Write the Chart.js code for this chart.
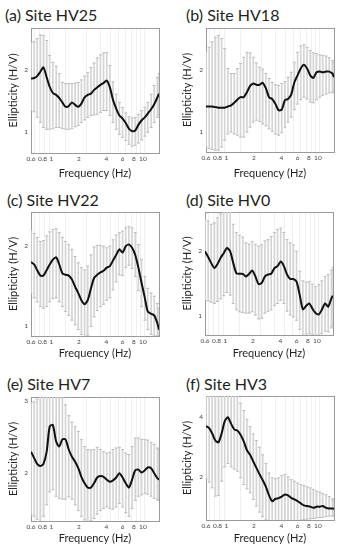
<!DOCTYPE html>
<html>
<head>
<meta charset="utf-8">
<script src="https://cdn.jsdelivr.net/npm/chart.js@4.4.1/dist/chart.umd.min.js"></script>
<style>
  body { margin: 0; background: #fff; }
  #wrap { position: relative; width: 340px; height: 550px; overflow: hidden; }
  canvas { position: absolute; }
  .ttl { position: absolute; font: 16px Lato, sans-serif; line-height: 16px; color: #231f20; white-space: nowrap; }
</style>
</head>
<body>
<div id="wrap"></div>
<script>
// 周波数 (Hz) — 全サイト共通
const freq = [0.60,0.65,0.70,0.76,0.82,0.89,0.96,1.04,1.13,1.22,1.32,1.43,1.55,1.68,1.82,1.97,2.13,2.31,2.50,2.71,2.93,3.17,3.44,3.72,4.03,4.36,4.72,5.11,5.54,6.00,6.50,7.03,7.62,8.25,8.93,9.67,10.5,11.3,12.3,13.3,14.4,15.0];
const xTickVals = [0.6,0.7,0.8,0.9,1,2,3,4,5,6,7,8,9,10];
const xTickLabels = ['0.6','','0.8','','1','2','','4','','6','','8','','10'];

// HV25
const hv25Mean = [1.86,1.87,1.90,1.97,2.04,1.88,1.73,1.63,1.60,1.55,1.48,1.41,1.42,1.48,1.44,1.41,1.46,1.56,1.60,1.62,1.68,1.72,1.76,1.79,1.83,1.72,1.52,1.38,1.27,1.22,1.15,1.06,1.02,1.03,1.12,1.19,1.24,1.30,1.37,1.45,1.56,1.62];
const hv25Up   = [2.44,2.45,2.50,2.56,2.55,2.47,2.23,2.12,2.06,1.94,1.80,1.78,1.78,1.78,1.79,1.80,1.84,1.90,1.96,2.04,2.11,2.19,2.24,2.27,2.28,2.07,1.81,1.61,1.48,1.40,1.31,1.25,1.23,1.24,1.29,1.35,1.40,1.48,1.61,1.75,1.88,1.94];
const hv25Low  = [1.35,1.33,1.24,1.16,1.08,1.05,1.05,1.06,1.08,1.08,1.06,1.05,1.05,1.06,1.09,1.11,1.16,1.20,1.24,1.27,1.28,1.29,1.32,1.35,1.35,1.27,1.16,1.05,0.97,0.92,0.87,0.81,0.78,0.79,0.83,0.88,0.94,1.00,1.08,1.16,1.24,1.28];

// HV18
const hv18Mean = [1.41,1.41,1.41,1.40,1.39,1.39,1.39,1.41,1.43,1.47,1.52,1.56,1.56,1.64,1.74,1.78,1.76,1.76,1.79,1.70,1.56,1.53,1.45,1.35,1.36,1.51,1.53,1.60,1.80,1.91,2.02,2.08,2.02,1.91,1.87,1.96,1.97,1.96,1.97,1.97,1.94,1.88];
const hv18Up   = [2.29,2.36,2.45,2.52,2.55,2.50,2.34,2.02,1.94,1.94,2.02,2.10,2.20,2.28,2.27,2.20,2.11,2.04,2.01,1.94,1.86,1.80,1.76,1.75,1.78,1.81,1.88,1.96,2.12,2.28,2.38,2.40,2.36,2.31,2.27,2.26,2.24,2.23,2.22,2.19,2.15,2.12];
const hv18Low  = [0.76,0.74,0.72,0.71,0.71,0.76,0.87,0.97,1.00,0.97,0.95,0.92,0.92,1.00,1.08,1.16,1.19,1.17,1.13,1.10,1.05,1.01,0.97,0.95,0.99,1.08,1.16,1.24,1.36,1.45,1.52,1.56,1.53,1.48,1.47,1.52,1.56,1.59,1.61,1.63,1.64,1.63];

// HV22
const hv22Mean = [1.80,1.77,1.70,1.63,1.63,1.70,1.77,1.83,1.86,1.77,1.66,1.64,1.63,1.58,1.49,1.41,1.32,1.27,1.32,1.47,1.60,1.64,1.67,1.69,1.73,1.75,1.82,1.89,1.96,1.92,2.00,2.02,1.98,1.89,1.73,1.54,1.35,1.18,1.15,1.13,1.03,0.95];
const hv22Up   = [2.20,2.16,2.11,2.06,2.07,2.13,2.18,2.21,2.22,2.17,2.11,2.06,2.02,1.96,1.87,1.79,1.73,1.70,1.75,1.89,1.99,2.01,2.01,2.00,1.98,2.00,2.08,2.14,2.17,2.19,2.23,2.25,2.23,2.17,2.02,1.83,1.62,1.47,1.41,1.37,1.28,1.22];
const hv22Low  = [1.41,1.35,1.30,1.24,1.22,1.24,1.30,1.34,1.35,1.30,1.24,1.18,1.13,1.07,1.01,0.95,0.89,0.86,0.88,0.99,1.11,1.19,1.24,1.27,1.32,1.35,1.45,1.55,1.64,1.63,1.73,1.76,1.72,1.62,1.44,1.24,1.07,0.95,0.89,0.87,0.87,0.87];

// HV0
const hv0Mean = [2.00,1.91,1.82,1.74,1.80,1.90,1.97,2.05,2.00,1.82,1.66,1.65,1.65,1.61,1.65,1.70,1.61,1.49,1.51,1.61,1.64,1.65,1.74,1.77,1.84,1.77,1.64,1.57,1.57,1.53,1.32,1.10,1.15,1.19,1.11,1.04,1.02,1.09,1.19,1.14,1.27,1.31];
const hv0Up   = [2.49,2.47,2.42,2.44,2.52,2.58,2.64,2.68,2.63,2.42,2.29,2.25,2.22,2.13,2.11,2.15,2.11,2.08,2.10,2.16,2.18,2.23,2.29,2.34,2.36,2.29,2.18,2.13,2.10,2.00,1.69,1.54,1.52,1.53,1.49,1.45,1.48,1.54,1.61,1.64,1.71,1.75];
const hv0Low  = [1.24,1.23,1.21,1.19,1.22,1.26,1.31,1.36,1.32,1.19,1.09,1.06,1.05,1.04,1.04,1.06,1.01,0.95,0.96,1.04,1.07,1.09,1.16,1.19,1.24,1.19,1.07,1.01,0.98,0.93,0.79,0.69,0.70,0.72,0.70,0.69,0.70,0.72,0.76,0.75,0.81,0.84];

// HV7
const hv7Mean = [2.30,2.21,2.13,2.10,2.13,2.30,2.65,2.67,2.44,2.37,2.47,2.47,2.33,2.23,2.16,2.07,1.95,1.86,1.80,1.80,1.86,1.94,1.96,1.95,1.91,1.88,1.90,1.94,2.00,1.94,1.86,1.80,1.91,2.04,2.05,2.01,2.04,2.08,2.07,2.00,1.93,1.91];
const hv7Up   = [2.98,2.99,3.03,3.09,3.14,3.20,3.25,3.25,3.20,3.12,3.05,2.95,2.80,2.71,2.65,2.58,2.47,2.37,2.33,2.32,2.33,2.36,2.33,2.30,2.28,2.29,2.33,2.35,2.36,2.33,2.28,2.26,2.37,2.49,2.49,2.47,2.47,2.46,2.43,2.40,2.35,2.33];
const hv7Low  = [1.42,1.40,1.36,1.33,1.40,1.56,1.74,1.77,1.68,1.65,1.64,1.64,1.67,1.64,1.56,1.48,1.40,1.35,1.33,1.34,1.37,1.43,1.48,1.51,1.53,1.51,1.50,1.53,1.58,1.53,1.45,1.40,1.51,1.62,1.68,1.70,1.72,1.71,1.68,1.65,1.63,1.62];

// HV3
const hv3Mean = [3.69,3.62,3.45,3.21,3.15,3.45,3.84,3.98,3.76,3.58,3.54,3.40,3.18,2.89,2.74,2.52,2.31,2.09,1.90,1.68,1.40,1.21,1.29,1.31,1.36,1.43,1.40,1.32,1.27,1.21,1.14,1.07,1.05,1.03,0.99,1.03,1.03,1.05,0.99,0.97,0.97,0.96];
const hv3Up   = [4.68,4.71,4.71,4.77,4.82,4.90,5.00,5.00,4.90,4.77,4.66,4.44,4.20,3.91,3.67,3.43,3.21,2.99,2.74,2.45,2.14,1.98,1.95,1.98,2.05,2.09,2.01,1.92,1.87,1.81,1.76,1.73,1.68,1.65,1.60,1.54,1.51,1.46,1.42,1.36,1.29,1.25];
const hv3Low  = [1.95,1.84,1.65,1.38,1.40,1.87,2.34,2.45,2.34,2.27,2.20,1.98,1.76,1.62,1.49,1.27,1.05,0.85,0.70,0.59,0.50,0.45,0.50,0.50,0.48,0.50,0.55,0.55,0.56,0.57,0.58,0.60,0.62,0.63,0.64,0.66,0.67,0.68,0.70,0.72,0.72,0.72];

// パネル設定 (位置・軸範囲)
const panels = [
  { title: '(a) Site HV25', mean: hv25Mean, up: hv25Up, low: hv25Low, yMin: 0.67, yMax: 2.67, yTicks: [1, 2],
    left: 0, top: 0, h: 183, yW: 31, padR: 11, padT: 28, xH: 30, xtPad: 3, ytPad: 6.5, tx: 5, ty: 7 },
  { title: '(b) Site HV18', mean: hv18Mean, up: hv18Up, low: hv18Low, yMin: 0.68, yMax: 2.67, yTicks: [1, 2],
    left: 170, top: 0, h: 183, yW: 36, padR: 6, padT: 28, xH: 31, xtPad: 3, ytPad: 10.5, tx: 186, ty: 7 },
  { title: '(c) Site HV22', mean: hv22Mean, up: hv22Up, low: hv22Low, yMin: 0.87, yMax: 2.43, yTicks: [1, 2],
    left: 0, top: 183, h: 184, yW: 31, padR: 11, padT: 29, xH: 31, xtPad: 7, ytPad: 6.5, tx: 7, ty: 192 },
  { title: '(d) Site HV0', mean: hv0Mean, up: hv0Up, low: hv0Low, yMin: 0.70, yMax: 2.61, yTicks: [1, 2],
    left: 170, top: 183, h: 184, yW: 35, padR: 7, padT: 29, xH: 32, xtPad: 7, ytPad: 11, tx: 186, ty: 192 },
  { title: '(e) Site HV7', mean: hv7Mean, up: hv7Up, low: hv7Low, yMin: 1.335, yMax: 3.06, yTicks: [2, 3],
    left: 0, top: 367, h: 183, yW: 31, padR: 11, padT: 30, xH: 29, xtPad: 5, ytPad: 6.5, tx: 7, ty: 376 },
  { title: '(f) Site HV3', mean: hv3Mean, up: hv3Up, low: hv3Low, yMin: 0.59, yMax: 4.68, yTicks: [2, 4],
    left: 170, top: 367, h: 183, yW: 36, padR: 6, padT: 29, xH: 30, xtPad: 5, ytPad: 11, tx: 186, ty: 376 }
];

Chart.defaults.font.family = 'Lato, sans-serif';
Chart.defaults.color = '#333';

const BAR_GREY = '#d4d4d4';
const CAP_GREY = '#bdbdbd';
const BOX_GREY = '#9a9a9a';

function makePanel(p) {
  const wrap = document.getElementById('wrap');

  const t = document.createElement('div');
  t.className = 'ttl';
  t.style.left = p.tx + 'px';
  t.style.top = p.ty + 'px';
  t.textContent = p.title;
  wrap.appendChild(t);

  const canvas = document.createElement('canvas');
  canvas.style.left = p.left + 'px';
  canvas.style.top = p.top + 'px';
  canvas.style.width = '170px';
  canvas.style.height = p.h + 'px';
  canvas.width = 170;
  canvas.height = p.h;
  wrap.appendChild(canvas);

  const meanPts = freq.map((f, i) => ({ x: f, y: p.mean[i] }));
  const barPts = freq.map((f, i) => ({ x: f, y: [p.low[i], p.up[i]] }));
  const upPts = freq.map((f, i) => ({ x: f, y: p.up[i] }));
  const lowPts = freq.map((f, i) => ({ x: f, y: p.low[i] }));

  const capStyle = {
    type: 'line', showLine: false, pointStyle: 'line', pointRadius: 1.5,
    pointBorderColor: CAP_GREY, pointBorderWidth: 1, clip: 0, order: 2
  };

  new Chart(canvas, {
    type: 'bar',
    data: {
      datasets: [
        { type: 'line', data: meanPts, borderColor: '#111', borderWidth: 2,
          pointRadius: 0, tension: 0.25, order: 0 },
        { type: 'bar', data: barPts, backgroundColor: BAR_GREY, barThickness: 1, clip: 0, order: 3 },
        Object.assign({ data: upPts }, capStyle),
        Object.assign({ data: lowPts }, capStyle)
      ]
    },
    options: {
      responsive: false,
      animation: false,
      events: [],
      layout: { padding: { top: p.padT, right: p.padR, left: 0, bottom: 0 } },
      plugins: { legend: { display: false }, tooltip: { enabled: false } },
      scales: {
        x: {
          type: 'logarithmic', min: 0.6, max: 15, offset: false,
          afterBuildTicks: s => { s.ticks = xTickVals.map(v => ({ value: v })); },
          afterFit: s => { s.height = p.xH; },
          ticks: {
            autoSkip: false, maxRotation: 0, padding: 2,
            font: { size: 6.5 }, color: '#444',
            callback: (v, i) => xTickLabels[i]
          },
          grid: { color: '#f0f0f0', drawTicks: false },
          border: { color: BOX_GREY },
          title: { display: true, text: 'Frequency (Hz)', font: { size: 11 }, color: '#231f20',
                   padding: { top: 0, bottom: p.xtPad } }
        },
        x2: {
          type: 'linear', position: 'top', min: 0, max: 1,
          ticks: { display: false }, grid: { display: false },
          border: { color: BOX_GREY },
          afterFit: s => { s.height = 0; }
        },
        y: {
          type: 'linear', min: p.yMin, max: p.yMax,
          afterBuildTicks: s => { s.ticks = p.yTicks.map(v => ({ value: v })); },
          afterFit: s => { s.width = p.yW; },
          ticks: { padding: 3, font: { size: 6.5 }, color: '#444', callback: v => String(v) },
          grid: { display: false, drawTicks: false },
          border: { color: BOX_GREY },
          title: { display: true, text: 'Ellipticity (H/V)', font: { size: 11 }, color: '#231f20',
                   padding: { top: p.ytPad, bottom: 0 } }
        },
        y2: {
          type: 'linear', position: 'right', min: 0, max: 1,
          ticks: { display: false }, grid: { display: false },
          border: { color: BOX_GREY },
          afterFit: s => { s.width = 0; }
        }
      }
    }
  });
}

panels.forEach(makePanel);
</script>
</body>
</html>
